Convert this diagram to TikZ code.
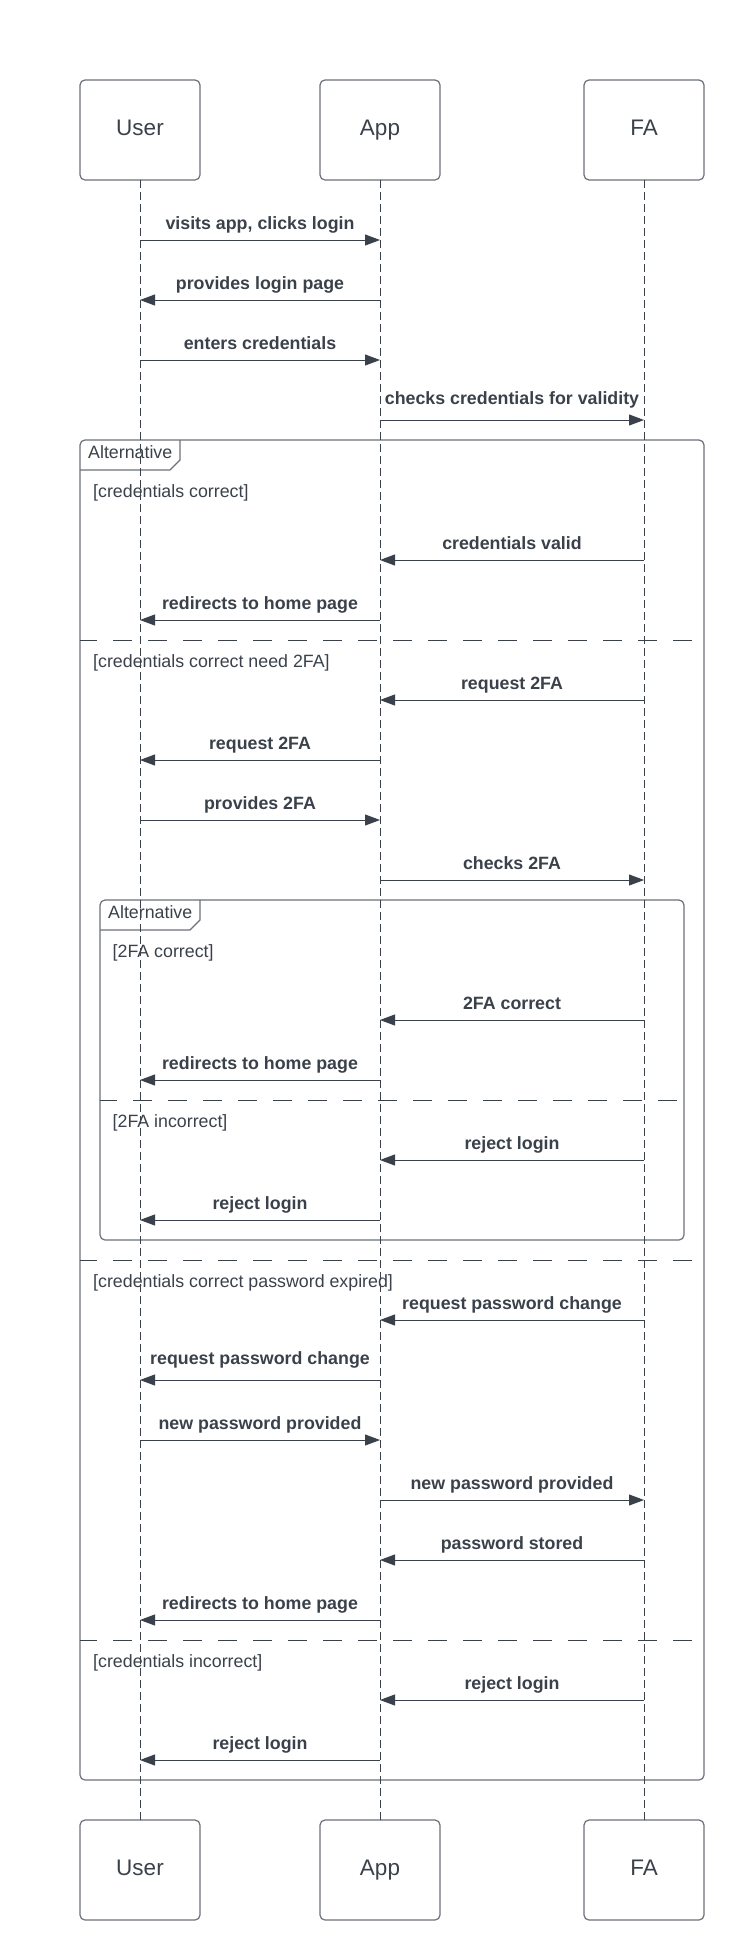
\documentclass[tikz,border=0pt]{standalone}
\usepackage{fontspec}
\setmainfont{Liberation Sans}
\usetikzlibrary{arrows.meta, positioning}
\definecolor{ink}{HTML}{3A414A}
\definecolor{framegray}{HTML}{6B7078}

\begin{document}
\begin{tikzpicture}[
x=1pt, y=-1pt,
font=\fontsize{17.8}{21}\selectfont,
text=ink,
actor/.style={rectangle, rounded corners=5pt, draw=framegray, line width=1.2pt, minimum width=120pt, minimum height=100pt, outer sep=0pt, text height=16pt, text depth=5pt, font=\fontsize{22.5}{27}\selectfont},
lifeline/.style={draw=ink, line width=0.9pt, dash pattern=on 8pt off 4pt},
arrow/.style={draw=ink, line width=1pt, -{Triangle[length=15pt, width=11pt]}},
msg/.style={pos=0.5, anchor=base, inner sep=0pt, font=\fontsize{17.8}{21}\selectfont\bfseries},
guard/.style={anchor=base west, inner sep=0pt},
frame/.style={draw=framegray, line width=1.2pt, rounded corners=5pt},
divider/.style={draw=ink, line width=1pt, dash pattern=on 19pt off 16pt, dash phase=2pt}
]
\useasboundingbox (0,0) rectangle (744,1960);

% lifeline heads
\node[actor] (user) at (140,130) {User};
\node[actor, right=120pt of user] (app) {App};
\node[actor, right=144pt of app] (fa) {FA};
\node[actor] (userB) at (140,1870) {User};
\node[actor] (appB) at (380,1870) {App};
\node[actor] (faB) at (644,1870) {FA};

% alt frames
\draw[frame] (80,440) rectangle (704,1780);
\draw[frame, rounded corners=0pt] (80,470) -- (170,470) -- (180,460) -- (180,440);
\node[guard] (alt1) at (88,458) {Alternative};
\draw[frame] (100,900) rectangle (684,1240);
\draw[frame, rounded corners=0pt] (100,930) -- (190,930) -- (200,920) -- (200,900);
\node[guard] (alt2) at (108,918) {Alternative};

\draw[divider] (80,640) -- (695,640);
\draw[divider] (80,1260) -- (695,1260);
\draw[divider] (80,1640) -- (695,1640);
\draw[divider] (100,1100) -- (680,1100);

\node[guard] (g1) at (93,497.5) {[credentials correct]};
\node[guard] (g2) at (93,667.5) {[credentials correct need 2FA]};
\node[guard] (g3) at (112.5,957.5) {[2FA correct]};
\node[guard] (g4) at (112.5,1127.5) {[2FA incorrect]};
\node[guard] (g5) at (93,1287.5) {[credentials correct password expired]};
\node[guard] (g6) at (93,1667.5) {[credentials incorrect]};

\draw[lifeline] (user) -- (userB);
\draw[lifeline] (app) -- (appB);
\draw[lifeline] (fa) -- (faB);

% messages
\foreach \y/\a/\b/\h/\txt [count=\i] in {
  240/user/app/10.5/{visits app, clicks login},
  300/app/user/10.5/{provides login page},
  360/user/app/10.5/{enters credentials},
  420/app/fa/15.5/{checks credentials for validity},
  560/fa/app/10.5/{credentials valid},
  620/app/user/10.5/{redirects to home page},
  700/fa/app/10.5/{request 2FA},
  760/app/user/10.5/{request 2FA},
  820/user/app/10.5/{provides 2FA},
  880/app/fa/10.5/{checks 2FA},
  1020/fa/app/10.5/{2FA correct},
  1080/app/user/10.5/{redirects to home page},
  1160/fa/app/10.5/{reject login},
  1220/app/user/10.5/{reject login},
  1320/fa/app/10.5/{request password change},
  1380/app/user/15.5/{request password change},
  1440/user/app/10.5/{new password provided},
  1500/app/fa/10.5/{new password provided},
  1560/fa/app/10.5/{password stored},
  1620/app/user/10.5/{redirects to home page},
  1700/fa/app/10.5/{reject login},
  1760/app/user/10.5/{reject login}} {
  \coordinate (m\i) at (0,\y);
  \draw[arrow] (\a|-m\i) -- (\b|-m\i) node[msg, yshift=\h pt] {\txt};
}

\end{tikzpicture}
\end{document}
